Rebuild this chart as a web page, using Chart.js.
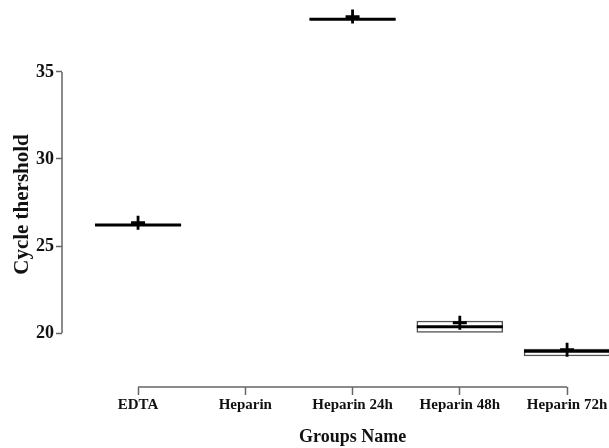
<!DOCTYPE html>
<html>
<head>
<meta charset="utf-8">
<script src="https://cdn.jsdelivr.net/npm/chart.js@4.4.1/dist/chart.umd.min.js"></script>
<style>
  body { margin: 0; background: #fff; }
</style>
</head>
<body>
<canvas id="ctChart" width="609" height="448"></canvas>
<script>
/* global Chart */

var groups = ["EDTA", "Heparin", "Heparin 24h", "Heparin 48h", "Heparin 72h"];
var q1 = [26.19, null, 38.01, 20.04, 18.68];
var q3 = [26.24, null, 38.06, 20.69, 19.08];
var medians = [26.21, null, 38.03, 20.36, 18.96];
var means = [26.34, null, 38.18, 20.59, 19.04];
var yTicks = [20, 25, 30, 35];
var xTitle = "Groups Name";

function points(values) {
  var out = [];
  for (var i = 0; i < groups.length; i++) {
    if (values[i] !== null) out.push({ x: i, y: values[i] });
  }
  return out;
}

var boxes = [];
for (var i = 0; i < groups.length; i++) {
  if (q1[i] !== null) boxes.push({ x: i, y: [q1[i], q3[i]] });
}

var font = "'Liberation Serif', 'Times New Roman', serif";

// axis lines only span the ticks / categories, like the original plot,
// and the x title sits centred under that shorter axis line
var axisLines = {
  id: "axisLines",
  beforeDatasetsDraw: function (chart) {
    var ctx = chart.ctx;
    var area = chart.chartArea;
    var x = chart.scales.x;
    var y = chart.scales.y;
    var x0 = x.getPixelForValue(0);
    var x1 = x.getPixelForValue(groups.length - 1);
    ctx.save();
    ctx.strokeStyle = "#666";
    ctx.lineWidth = 1.5;
    ctx.beginPath();
    ctx.moveTo(area.left, y.getPixelForValue(yTicks[0]));
    ctx.lineTo(area.left, y.getPixelForValue(yTicks[yTicks.length - 1]));
    ctx.moveTo(x0, area.bottom);
    ctx.lineTo(x1, area.bottom);
    ctx.stroke();
    ctx.fillStyle = "#111";
    ctx.font = "bold 18px " + font;
    ctx.textAlign = "center";
    ctx.textBaseline = "middle";
    ctx.fillText(xTitle, (x0 + x1) / 2, x.bottom - 11);
    ctx.restore();
  },
};

var ctChart = new Chart(document.getElementById("ctChart"), {
  type: "bar",
  data: {
    datasets: [
      {
        type: "line",
        data: points(means),
        showLine: false,
        pointStyle: "cross",
        pointRadius: 7,
        pointBorderWidth: 2.8,
        borderColor: "#000",
        clip: false,
        order: 0,
      },
      {
        type: "line",
        data: points(medians),
        showLine: false,
        pointStyle: "line",
        pointRadius: 43,
        pointBorderWidth: 3,
        borderColor: "#000",
        clip: false,
        order: 1,
      },
      {
        type: "bar",
        data: boxes,
        barThickness: 86,
        backgroundColor: "#fff",
        borderColor: "#555",
        borderWidth: 1.5,
        borderSkipped: false,
        clip: false,
        order: 2,
      },
    ],
  },
  plugins: [axisLines],
  options: {
    responsive: false,
    animation: false,
    layout: {
      autoPadding: false,
      padding: { top: 22, right: 0, left: 0, bottom: 0 },
    },
    plugins: {
      legend: { display: false },
      tooltip: { enabled: false },
    },
    scales: {
      x: {
        type: "linear",
        offset: false,
        min: -0.709,
        max: 4.391,
        bounds: "data",
        afterBuildTicks: function (scale) {
          scale.ticks = groups.map(function (g, i) {
            return { value: i };
          });
        },
        afterFit: function (scale) {
          scale.height = 61;
          scale.paddingLeft = 0;
          scale.paddingRight = 0;
        },
        border: { display: false },
        grid: {
          drawOnChartArea: false,
          offset: false,
          tickLength: 8,
          tickColor: "#666",
          tickWidth: 1.5,
        },
        ticks: {
          autoSkip: false,
          maxRotation: 0,
          padding: 1,
          color: "#111",
          font: { family: font, size: 15, weight: "bold" },
          callback: function (value) {
            return groups[value];
          },
        },
        title: { display: false },
      },
      y: {
        type: "linear",
        min: 16.9,
        max: 37.87,
        afterBuildTicks: function (scale) {
          scale.ticks = yTicks.map(function (v) {
            return { value: v };
          });
        },
        afterFit: function (scale) {
          scale.width = 62;
          scale.paddingTop = 0;
          scale.paddingBottom = 0;
        },
        border: { display: false },
        grid: {
          drawOnChartArea: false,
          tickLength: 6,
          tickColor: "#666",
          tickWidth: 1.5,
        },
        ticks: {
          padding: 2,
          color: "#111",
          font: { family: font, size: 18, weight: "bold" },
        },
        title: {
          display: true,
          text: "Cycle thershold",
          color: "#111",
          padding: { top: 10, bottom: 4 },
          font: { family: font, size: 21, weight: "bold" },
        },
      },
    },
  },
});
</script>
</body>
</html>
